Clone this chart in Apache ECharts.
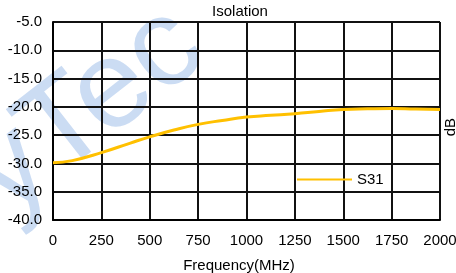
<!DOCTYPE html>
<html><head><meta charset="utf-8">
<script src="https://cdn.jsdelivr.net/npm/echarts@6/dist/echarts.min.js"></script>
<style>html,body{margin:0;padding:0;background:#fff;overflow:hidden}#c{width:456px;height:273px}</style>
</head><body><div id="c"></div>
<script>
const freqs = [0, 100, 250, 400, 500, 625, 750, 875, 1000, 1125, 1250, 1375, 1500, 1625, 1750, 1875, 2000];
const s31 = [-29.9, -29.5, -28.1, -26.4, -25.3, -24.1, -23.1, -22.4, -21.8, -21.5, -21.2, -20.8, -20.45, -20.35, -20.3, -20.4, -20.45];
const seriesName = 'S31';
const titleText = 'Isolation';
const xName = 'Frequency(MHz)';
const yName = 'dB';
const watermarkText = 'yTec';

const chart = echarts.init(document.getElementById('c'));
const font = 'Liberation Sans, Arial, sans-serif';
const fs = 15;
chart.setOption({
  animation: false,
  backgroundColor: '#fff',
  graphic: [{
    type: 'text', x: -14, y: 190, rotation: 38 * Math.PI / 180, z: 0, silent: true,
    style: { text: watermarkText, fontSize: 125, fontFamily: font, fill: 'rgba(175,202,236,0.65)',
      align: 'left', verticalAlign: 'middle' }
  }, {
    type: 'text', left: 443, top: 118, rotation: Math.PI / 2, silent: true,
    style: { text: yName, fontSize: fs, fontFamily: font, fill: '#000' }
  }],
  title: { text: titleText, left: 240, top: 4, padding: 0, textAlign: 'center',
    textStyle: { fontSize: fs, fontWeight: 'normal', color: '#000', fontFamily: font } },
  grid: { left: 53, right: 16, top: 22, bottom: 53, containLabel: false, outerBoundsMode: 'none' },
  legend: { data: [seriesName], left: 297, top: 172, padding: 0, itemWidth: 55, itemHeight: 14, itemGap: 4,
    icon: 'path://M0,6 L55,6 L55,8 L0,8 Z',
    textStyle: { fontSize: fs, color: '#000', fontFamily: font } },
  xAxis: { type: 'value', min: 0, max: 2000, interval: 250,
    name: xName, nameLocation: 'middle', nameGap: 38,
    nameTextStyle: { fontSize: fs, color: '#000', fontFamily: font, padding: [0, 15, 0, 0] },
    axisLine: { lineStyle: { color: '#000', width: 2 } }, axisTick: { show: false },
    axisLabel: { color: '#000', fontSize: fs, fontFamily: font, margin: 13, formatter: v => String(v) },
    splitLine: { lineStyle: { color: '#111', width: 2 } } },
  yAxis: { type: 'value', min: -40, max: -5, interval: 5,
    axisLine: { show: true, lineStyle: { color: '#000', width: 2 } }, axisTick: { show: false },
    axisLabel: { color: '#000', fontSize: fs, fontFamily: font, margin: 11, formatter: v => v.toFixed(1) },
    splitLine: { lineStyle: { color: '#111', width: 2 } } },
  series: [{ name: seriesName, type: 'line', data: freqs.map((f, i) => [f, s31[i]]),
    smooth: true, showSymbol: false, lineStyle: { color: '#FFC000', width: 3 }, itemStyle: { color: '#FFC000' } }]
});
</script></body></html>
